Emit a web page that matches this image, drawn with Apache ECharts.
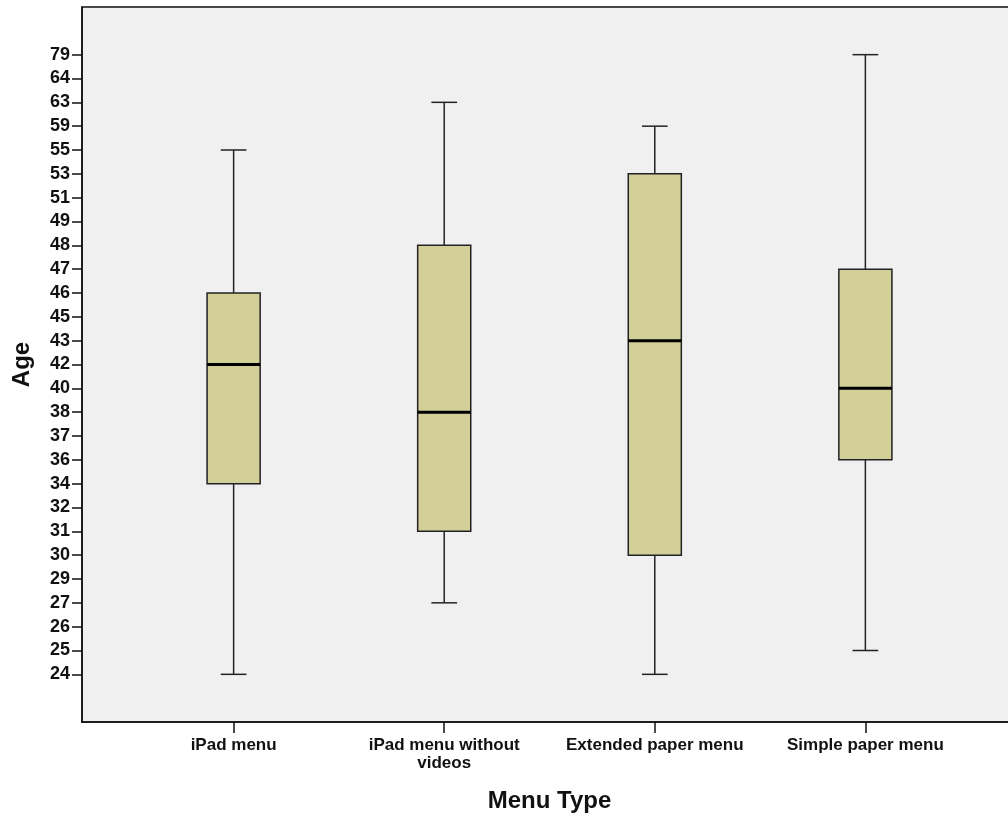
<!DOCTYPE html>
<html>
<head>
<meta charset="utf-8">
<script src="https://cdn.jsdelivr.net/npm/echarts@6/dist/echarts.min.js"></script>
<style>
  html, body { margin: 0; padding: 0; background: #ffffff; }
  #chart { width: 1008px; height: 816px; }
</style>
</head>
<body>
<div id="chart"></div>
<script>
// Menu groups along the horizontal axis
const menuTypes = ['iPad menu', 'iPad menu without\nvideos', 'Extended paper menu', 'Simple paper menu'];

// Age values shown on the vertical axis (ordinal, evenly spaced)
const ageTicks = [24, 25, 26, 27, 29, 30, 31, 32, 34, 36, 37, 38, 40, 42, 43, 45, 46, 47, 48, 49, 51, 53, 55, 59, 63, 64, 79];

// Five-number summaries per menu type (ages)
const minAge    = [24, 27, 24, 25];
const q1Age     = [34, 31, 30, 36];
const medianAge = [42, 38, 43, 40];
const q3Age     = [46, 48, 53, 47];
const maxAge    = [55, 63, 59, 79];

const pos = (age) => ageTicks.indexOf(age);

const boxData = menuTypes.map((_, i) => [
  i + 1, pos(minAge[i]), pos(q1Age[i]), pos(medianAge[i]), pos(q3Age[i]), pos(maxAge[i])
]);

const labelFont = { fontFamily: 'Liberation Sans, Arial, sans-serif', fontWeight: 'bold', color: '#111' };

const chart = echarts.init(document.getElementById('chart'), null, { renderer: 'canvas' });

chart.setOption({
  animation: false,
  backgroundColor: '#ffffff',
  grid: {
    left: 82, right: -9, top: 7, bottom: 94,
    containLabel: false,
    outerBoundsMode: 'none',
    show: true, backgroundColor: '#f0f0f0', borderColor: '#111', borderWidth: 1.5
  },
  xAxis: {
    type: 'value',
    min: 0.28, max: 4.72,
    name: 'Menu Type',
    nameLocation: 'middle',
    nameGap: 67,
    nameTextStyle: Object.assign({ fontSize: 24 }, labelFont),
    splitLine: { show: false },
    axisLine: { show: true, onZero: false, lineStyle: { color: '#111', width: 1.5 } },
    axisTick: { show: true, length: 11, lineStyle: { color: '#111', width: 1.5 }, customValues: [1, 2, 3, 4] },
    axisLabel: Object.assign({
      fontSize: 17, margin: 14, lineHeight: 18,
      customValues: [1, 2, 3, 4],
      formatter: (v) => menuTypes[Math.round(v) - 1] || ''
    }, labelFont)
  },
  yAxis: {
    type: 'value',
    min: -2, max: 28, interval: 1,
    name: 'Age',
    nameLocation: 'middle',
    nameGap: 48,
    nameRotate: 90,
    nameTextStyle: Object.assign({ fontSize: 24 }, labelFont),
    splitLine: { show: false },
    axisLine: { show: true, onZero: false, lineStyle: { color: '#111', width: 1.5 } },
    axisTick: { show: true, length: 10, lineStyle: { color: '#111', width: 1.5 }, customValues: ageTicks.map((_, i) => i) },
    axisLabel: Object.assign({
      fontSize: 18, margin: 12,
      customValues: ageTicks.map((_, i) => i),
      formatter: (v) => String(ageTicks[Math.round(v)])
    }, labelFont)
  },
  series: [{
    type: 'custom',
    data: boxData,
    encode: { x: 0, y: [1, 2, 3, 4, 5] },
    renderItem: function (params, api) {
      const x = api.value(0);
      const pMin = api.coord([x, api.value(1)]);
      const pQ1 = api.coord([x, api.value(2)]);
      const pMed = api.coord([x, api.value(3)]);
      const pQ3 = api.coord([x, api.value(4)]);
      const pMax = api.coord([x, api.value(5)]);
      const band = api.size([1, 0])[0];
      const boxW = band * 0.252;
      const capW = band * 0.122;
      const cx = pMed[0];
      const stroke = { stroke: '#222', lineWidth: 1.5 };
      return {
        type: 'group',
        children: [
          { type: 'line', shape: { x1: cx, y1: pQ3[1], x2: cx, y2: pMax[1] }, style: stroke },
          { type: 'line', shape: { x1: cx, y1: pMin[1], x2: cx, y2: pQ1[1] }, style: stroke },
          { type: 'line', shape: { x1: cx - capW / 2, y1: pMax[1], x2: cx + capW / 2, y2: pMax[1] }, style: stroke },
          { type: 'line', shape: { x1: cx - capW / 2, y1: pMin[1], x2: cx + capW / 2, y2: pMin[1] }, style: stroke },
          {
            type: 'rect',
            shape: { x: cx - boxW / 2, y: pQ3[1], width: boxW, height: pQ1[1] - pQ3[1] },
            style: { fill: '#d3cf99', stroke: '#222', lineWidth: 1.5 }
          },
          { type: 'line', shape: { x1: cx - boxW / 2, y1: pMed[1], x2: cx + boxW / 2, y2: pMed[1] }, style: { stroke: '#000', lineWidth: 3 } }
        ]
      };
    }
  }]
});
</script>
</body>
</html>
